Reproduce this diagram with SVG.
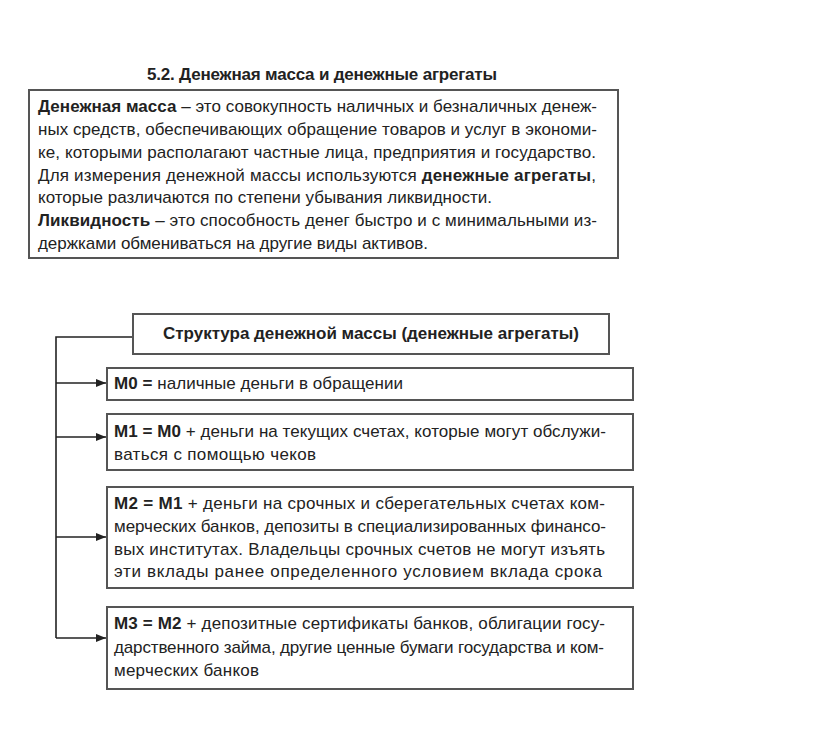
<svg xmlns="http://www.w3.org/2000/svg" width="816" height="729" viewBox="0 0 816 729">
<style>
text{font-family:"Liberation Sans",Arial,sans-serif;font-size:17px;fill:#222}
.b{font-weight:bold}
.box{fill:#fff;stroke:#555;stroke-width:2}
.con{fill:none;stroke:#222;stroke-width:1.6}
</style>
<defs>
<marker id="ah" viewBox="0 0 10 10" refX="10" refY="5" markerWidth="10" markerHeight="10" markerUnits="userSpaceOnUse" orient="auto">
<path d="M0,1 L10,5 L0,9 z" fill="#222"/>
</marker>
</defs>
<rect width="816" height="729" fill="#fff"/>
<g id="title"><text class="b" x="147" y="80" textLength="350">5.2. Денежная масса и денежные агрегаты</text></g>
<g id="definition">
<rect class="box" x="29" y="90" width="589" height="168"/>
<text x="38" y="112" textLength="559"><tspan class="b">Денежная масса</tspan> – это совокупность наличных и безналичных денеж-</text>
<text x="38" y="135" textLength="559">ных средств, обеспечивающих обращение товаров и услуг в экономи-</text>
<text x="38" y="158" textLength="558">ке, которыми располагают частные лица, предприятия и государство.</text>
<text x="38" y="181" textLength="558">Для измерения денежной массы используются <tspan class="b">денежные агрегаты</tspan>,</text>
<text x="38" y="203" textLength="454">которые различаются по степени убывания ликвидности.</text>
<text x="38" y="226" textLength="559"><tspan class="b">Ликвидность</tspan> – это способность денег быстро и с минимальными из-</text>
<text x="38" y="249" textLength="390">держками обмениваться на другие виды активов.</text>
</g>
<g id="connectors">
<path class="con" d="M133,337 H56 V638"/>
<path class="con" d="M56,383 H106" marker-end="url(#ah)"/>
<path class="con" d="M56,437 H106" marker-end="url(#ah)"/>
<path class="con" d="M56,537 H106" marker-end="url(#ah)"/>
<path class="con" d="M56,638 H106" marker-end="url(#ah)"/>
</g>
<g id="structure">
<rect class="box" x="133" y="314" width="476" height="40"/>
<text class="b" x="163" y="339" textLength="416">Структура денежной массы (денежные агрегаты)</text>
</g>
<g id="m0">
<rect class="box" x="107" y="368" width="526" height="32"/>
<text x="114" y="389" textLength="289"><tspan class="b">M0 =</tspan> наличные деньги в обращении</text>
</g>
<g id="m1">
<rect class="box" x="107" y="414" width="526" height="56"/>
<text x="114" y="437" textLength="492"><tspan class="b">M1 = M0</tspan> + деньги на текущих счетах, которые могут обслужи-</text>
<text x="114" y="460" textLength="202">ваться с помощью чеков</text>
</g>
<g id="m2">
<rect class="box" x="107" y="487" width="526" height="101"/>
<text x="114" y="509" textLength="491"><tspan class="b">M2 = M1</tspan> + деньги на срочных и сберегательных счетах ком-</text>
<text x="114" y="532" textLength="492">мерческих банков, депозиты в специализированных финансо-</text>
<text x="114" y="555" textLength="491">вых институтах. Владельцы срочных счетов не могут изъять</text>
<text x="114" y="577" textLength="488">эти вклады ранее определенного условием вклада срока</text>
</g>
<g id="m3">
<rect class="box" x="107" y="607" width="526" height="82"/>
<text x="114" y="629" textLength="491"><tspan class="b">M3 = M2</tspan> + депозитные сертификаты банков, облигации госу-</text>
<text x="114" y="653" textLength="490">дарственного займа, другие ценные бумаги государства и ком-</text>
<text x="114" y="676" textLength="145">мерческих банков</text>
</g>
</svg>
